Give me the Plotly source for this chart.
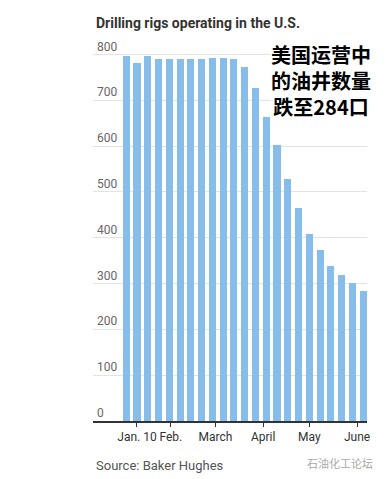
import plotly.graph_objects as go

dates = ["2020-01-03", "2020-01-10", "2020-01-17", "2020-01-24", "2020-01-31",
         "2020-02-07", "2020-02-14", "2020-02-21", "2020-02-28", "2020-03-06",
         "2020-03-13", "2020-03-20", "2020-03-27", "2020-04-03", "2020-04-10",
         "2020-04-17", "2020-04-24", "2020-05-01", "2020-05-08", "2020-05-15",
         "2020-05-22", "2020-05-29", "2020-06-05"]
rigs = [796, 781, 796, 790, 790, 790, 790, 790, 793, 792, 790, 772, 728, 664,
        602, 529, 465, 408, 374, 339, 318, 301, 284]

tick_vals = ["2020-01-10", "2020-02-01", "2020-03-01", "2020-04-01", "2020-05-01", "2020-06-01"]
tick_text = ["Jan. 10", "Feb.", "March", "April", "May", "June"]
y_ticks = [0, 100, 200, 300, 400, 500, 600, 700, 800]
note_lines = ["美国运营中", "的油井数量", "跌至284口"]

DAY = 86400000
PLOT_TOP, PLOT_BOTTOM = 50.2, 421.0
PLOT_H = PLOT_BOTTOM - PLOT_TOP


def py(pix):
    return (PLOT_BOTTOM - pix) / PLOT_H


fig = go.Figure()
fig.add_trace(go.Bar(
    x=dates, y=rigs, width=[4.6 * DAY] * len(dates),
    marker=dict(color="#86BDEA", line=dict(width=0)),
    hoverinfo="x+y",
))

fig.update_layout(
    width=386, height=479,
    margin=dict(l=93, r=19, t=50, b=58),
    paper_bgcolor="white", plot_bgcolor="white",
    showlegend=False,
    font=dict(family="Roboto, Arial, sans-serif", color="#333"),
    xaxis=dict(type="date", range=["2019-12-12 10:00", "2020-06-07 12:00"],
               tickvals=tick_vals, ticktext=tick_text,
               ticks="outside", ticklen=4, tickcolor="#333", tickwidth=1,
               showline=True, linecolor="#333", linewidth=1.5,
               showgrid=False, zeroline=False,
               tickfont=dict(size=12, color="#333")),
    yaxis=dict(range=[0, 810], tickvals=y_ticks, showticklabels=False, ticks="",
               showgrid=True, gridcolor="#e3e3e3", gridwidth=1,
               zeroline=False, showline=False),
    bargap=0,
)

fig.add_annotation(
    text="<b>Drilling rigs operating in the U.S.</b>",
    xref="paper", yref="paper", x=0.003, y=py(23), xanchor="left", yanchor="middle",
    showarrow=False, font=dict(size=14, color="#333"),
)

for v in y_ticks:
    fig.add_annotation(
        text=str(v), xref="paper", yref="y", x=0.006, y=v,
        xanchor="left", yanchor="bottom", showarrow=False, yshift=-1,
        font=dict(size=12, color="#666"),
    )

fig.add_annotation(
    text="<b>" + "<br>".join(note_lines) + "</b>",
    xref="paper", yref="paper", x=0.832, y=py(81), xanchor="center", yanchor="middle",
    showarrow=False, bgcolor="white", borderpad=0, align="center",
    font=dict(size=20, color="#000", family="Noto Sans CJK SC"),
)

fig.add_annotation(
    text="Source: Baker Hughes", xref="paper", yref="paper",
    x=0.003, y=py(465), xanchor="left", yanchor="middle", showarrow=False,
    font=dict(size=13, color="#555"),
)
fig.add_annotation(
    text="石油化工论坛", xref="paper", yref="paper",
    x=(375 - 93) / 274, y=py(463), xanchor="right", yanchor="middle", showarrow=False,
    font=dict(size=11, color="#aaa", family="Noto Sans CJK SC"),
)

fig.write_html("out.html", config={"displayModeBar": False},
               post_script="document.body.style.margin='0';")
